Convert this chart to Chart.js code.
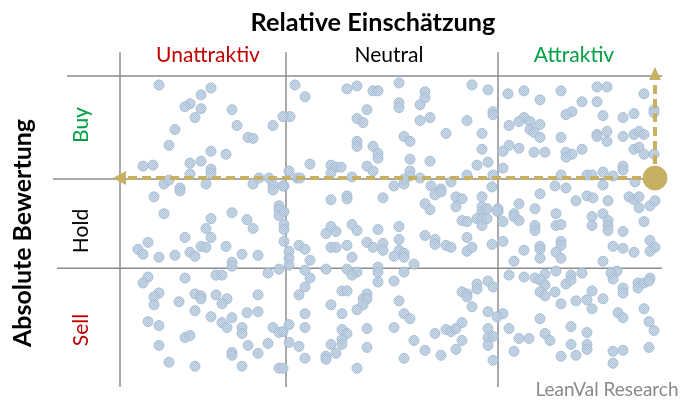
<!DOCTYPE html>
<html>
<head>
<meta charset="utf-8">
<script src="https://cdn.jsdelivr.net/npm/chart.js@4/dist/chart.umd.min.js"></script>
<style>
  html, body { margin: 0; padding: 0; background: #fff; }
</style>
</head>
<body>
<canvas id="chart" width="691" height="400"></canvas>
<script>
// Categories
const columnLabels = ["Unattraktiv", "Neutral", "Attraktiv"];
const rowLabels = ["Buy", "Hold", "Sell"];
// Score boundaries (relative score on x, absolute score on y)
const columnBounds = [0, 166, 378, 542];
const rowBounds = [0, 120, 210, 314];

// Stocks as [relative score, absolute score]
const unattraktivStocks = [
  [39,305],[91,302],[81,295],[70,286],[65,283],[81,281],[112,280],[75,272],[117,264],[163,273],[153,264],[55,260],
  [128,252],[133,251],[49,244],[91,238],[106,235],[23,223],[33,224],[70,226],[81,228],[91,220],[91,216],[70,215],
  [44,205],[49,209],[60,201],[86,205],[133,205],[139,211],[149,211],[153,204],[164,203],
  [153,199],[60,198],[34,192],[44,175],[112,176],[159,183],[159,179],[159,173],[91,170],[127,169],[86,160],[133,160],
  [164,164],[164,159],[65,151],[91,151],[28,146],[18,139],[23,134],[39,131],[55,133],[70,136],[75,132],[81,142],
  [86,141],[106,142],[122,134],[138,133],[164,147],[112,126],[112,122],[159,119],[148,115],[28,111],[65,110],[96,113],
  [102,113],[164,177],[163,203],
  [23,105],[39,95],[34,91],[34,83],[59,86],[75,94],[81,92],[81,89],[96,93],[107,89],[102,84],[138,93],[75,77],[91,71],
  [127,75],[138,76],[28,66],[39,62],[102,65],[107,60],[112,70],[122,60],[122,54],[153,60],[159,55],[65,50],[70,52],
  [39,42],[128,42],[148,44],[112,35],[112,32],[138,34],[49,25],[75,21],[122,21],[159,19],[163,56],[163,19]
];
const neutralStocks = [
  [170,273],[169,218],[175,305],[177,211],[169,137],[169,130],[169,123],[179,143],[169,63],[169,45],[179,93],[179,41],
  [185,293],[227,301],[237,304],[253,299],[258,299],[279,307],[279,287],[279,282],[247,280],[237,271],[243,267],
  [305,298],[305,292],[300,285],[300,269],[310,272],[352,305],[368,300],[347,269],[373,278],[373,275],[326,256],
  [362,256],[362,240],[237,248],[237,243],[253,243],[258,236],[258,231],[284,253],[290,248],[290,230],[310,228],
  [368,227],[357,224],[180,211],[190,225],[211,224],[216,222],[221,222],[211,216],[232,212],[247,223],[253,218],
  [290,218],[290,213],[300,211],[347,214],[373,214],[274,203],[284,205],[284,210],[311,203],[321,200],[331,207],[372,202],
  [211,189],[227,193],[227,190],[263,191],[315,194],[321,197],[305,185],[310,179],[336,192],[342,190],[336,182],
  [362,192],[362,182],[362,177],[367,180],[357,170],[362,170],[367,170],[362,163],[377,178],[342,168],[347,167],
  [206,155],[211,162],[216,157],[232,164],[237,158],[258,159],[279,162],[279,149],[305,153],[315,149],[315,144],
  [347,151],[372,144],[185,139],[211,141],[216,141],[227,143],[247,146],[253,141],[263,145],[263,138],[279,138],
  [284,135],[274,132],[284,131],[326,143],[331,141],[347,137],[352,141],[190,128],[232,131],[294,124],[206,119],
  [227,119],[237,116],[258,121],[258,116],[185,118],
  [258,106],[274,107],[284,116],[190,110],[185,101],[222,97],[227,97],[247,94],[243,89],[247,89],[243,83],[237,78],
  [211,83],[222,74],[185,74],[279,87],[284,74],[290,69],[185,60],[222,58],[227,54],[222,48],[222,43],[211,43],
  [216,34],[206,31],[206,28],[247,59],[247,40],[274,60],[237,19],[284,29],[185,29],[294,47],[305,37],[315,54],
  [326,58],[331,56],[336,59],[342,65],[342,47],[336,38],[321,32],[342,96],[347,94],[347,91],[352,81],[357,104],
  [357,99],[368,107],[373,101],[368,76],[377,71],[368,59],[368,50],[368,42],[373,51],[373,27],[232,113]
];
const attraktivStocks = [
  [388,296],[404,299],[420,290],[441,299],[477,303],[487,303],[477,288],[462,288],[524,296],[534,280],[534,277],
  [452,278],[446,275],[483,274],[514,276],[503,272],[404,272],[399,268],[410,268],[389,264],[420,265],[410,260],
  [414,257],[420,252],[441,252],[477,255],[477,253],[487,258],[487,248],[503,253],[514,255],[519,258],[524,255],
  [389,244],[383,238],[399,241],[414,237],[425,237],[446,237],[452,235],[446,232],[462,240],[514,240],[519,242],
  [524,235],[534,235],[383,221],[503,223],[503,219],[441,214],[467,214],[472,214],[483,217],[493,213],[515,207],
  [435,203],[446,201],[483,204],
  [420,195],[399,185],[456,188],[467,193],[473,191],[488,188],[509,192],[514,189],[519,192],[519,181],[530,183],
  [535,188],[378,180],[378,177],[394,175],[394,172],[399,168],[383,167],[415,180],[436,175],[436,163],[441,164],
  [415,163],[415,158],[472,172],[472,163],[483,175],[488,168],[488,163],[488,158],[503,157],[524,167],[383,147],
  [441,147],[441,143],[420,142],[420,139],[404,138],[436,136],[441,130],[420,130],[394,127],[493,142],[503,140],
  [514,136],[530,148],[535,141],[530,137],[483,127],[497,117],[491,115],[530,110],[389,113],[404,111],[415,110],
  [425,114],[436,117],[451,113],[462,115],
  [420,108],[425,103],[420,96],[425,92],[435,96],[446,104],[451,108],[441,84],[456,87],[467,88],[472,97],[472,79],
  [483,89],[493,109],[503,100],[503,95],[518,105],[518,100],[524,105],[529,107],[383,74],[420,69],[498,75],[503,70],
  [524,79],[529,66],[534,57],[389,59],[425,54],[430,47],[451,61],[467,55],[399,49],[409,49],[394,36],[451,43],
  [467,43],[467,38],[441,31],[456,32],[493,36],[503,37],[529,40],[493,24]
];

// Highlighted stock and the ends of the two arrows leaving it
const focusStock = [535, 211];
const arrowLeftEnd = -7;
const arrowTopEnd = 323;

const GOLD = "#C8B063";
const GRID = "#8c8c8c";
const FONT = "Lato, 'Open Sans', sans-serif";

const toXY = (list) => list.map(([x, y]) => ({ x, y }));

// small dithered fill like the original markers
function dotPattern() {
  const c = document.createElement("canvas");
  c.width = 2;
  c.height = 2;
  const p = c.getContext("2d");
  p.fillStyle = "rgba(196,212,228,0.85)";
  p.fillRect(0, 0, 2, 2);
  p.fillStyle = "rgba(170,192,215,0.85)";
  p.fillRect(0, 0, 1, 1);
  p.fillRect(1, 1, 1, 1);
  return p.createPattern(c, "repeat");
}

// grid lines, labels and arrowheads
const quadrantPlugin = {
  id: "quadrants",
  beforeDatasetsDraw(chart) {
    const { ctx, scales: { x, y } } = chart;
    ctx.save();
    ctx.strokeStyle = GRID;
    ctx.lineWidth = 1.5;
    const line = (x1, y1, x2, y2) => {
      ctx.beginPath();
      ctx.moveTo(x.getPixelForValue(x1), y.getPixelForValue(y1));
      ctx.lineTo(x.getPixelForValue(x2), y.getPixelForValue(y2));
      ctx.stroke();
    };
    // column separators
    for (let i = 0; i < 3; i++) line(columnBounds[i], 338, columnBounds[i], rowBounds[0]);
    // row separators
    line(-53, rowBounds[3], columnBounds[3], rowBounds[3]);
    line(-67, rowBounds[2], columnBounds[3] - 5, rowBounds[2]);
    line(-63, rowBounds[1], columnBounds[3], rowBounds[1]);
    ctx.restore();
  },
  afterDatasetsDraw(chart) {
    const { ctx, scales: { x, y } } = chart;
    const fx = x.getPixelForValue(focusStock[0]);
    const fy = y.getPixelForValue(focusStock[1]);
    const lx = x.getPixelForValue(arrowLeftEnd);
    const ty = y.getPixelForValue(arrowTopEnd);
    ctx.save();
    ctx.fillStyle = GOLD;
    ctx.beginPath();
    ctx.moveTo(lx, fy);
    ctx.lineTo(lx + 13, fy - 7);
    ctx.lineTo(lx + 13, fy + 7);
    ctx.closePath();
    ctx.fill();
    ctx.beginPath();
    ctx.moveTo(fx, ty);
    ctx.lineTo(fx - 6, ty + 13);
    ctx.lineTo(fx + 6, ty + 13);
    ctx.closePath();
    ctx.fill();
    ctx.restore();
  },
  afterDraw(chart) {
    const { ctx } = chart;
    const sizeFor = (text, weight, width) => {
      ctx.font = `${weight} 100px ${FONT}`;
      return (100 * width) / ctx.measureText(text).width;
    };
    const text = (str, cx, base, size, weight, color, rotate) => {
      ctx.save();
      ctx.font = `${weight} ${size}px ${FONT}`;
      ctx.fillStyle = color;
      ctx.textAlign = "center";
      ctx.textBaseline = "alphabetic";
      ctx.translate(cx, base);
      if (rotate) ctx.rotate(-Math.PI / 2);
      ctx.fillText(str, 0, 0);
      ctx.restore();
    };
    const titleSize = sizeFor("Relative Einschätzung", "bold", 245);
    const axisSize = sizeFor("Absolute Bewertung", "bold", 228);
    const labelSize = sizeFor("Unattraktiv", "normal", 104);
    const colColors = ["#C00000", "#000000", "#00A044"];
    const rowColors = ["#00A044", "#000000", "#C00000"];
    const colCenters = [208, 389, 574];
    const rowCenters = [125, 231, 330];

    text("Relative Einschätzung", 373, 31, titleSize, "bold", "#000");
    columnLabels.forEach((l, i) => text(l, colCenters[i], 62, labelSize, "normal", colColors[i]));
    // rotated labels: anchor is (baseline x, centre y)
    text("Absolute Bewertung", 31, 233, axisSize, "bold", "#000", true);
    rowLabels.forEach((l, i) => text(l, 88, rowCenters[i], labelSize, "normal", rowColors[i], true));
    const creditSize = sizeFor("LeanVal Research", "normal", 143);
    text("LeanVal Research", 607, 396, creditSize, "normal", "#8a8a8a");
  }
};

const pointStyle = {
  type: "scatter",
  backgroundColor: dotPattern(),
  borderColor: "rgba(165,188,212,0.9)",
  borderWidth: 1,
  pointRadius: 5,
  clip: false,
  order: 2
};

new Chart(document.getElementById("chart"), {
  type: "scatter",
  data: {
    datasets: [
      {
        type: "line",
        data: toXY([focusStock, [arrowLeftEnd + 12, focusStock[1]]]),
        borderColor: GOLD,
        borderWidth: 4,
        borderDash: [9, 5],
        pointRadius: 0,
        clip: false,
        order: 0
      },
      {
        type: "line",
        data: toXY([focusStock, [focusStock[0], arrowTopEnd - 12]]),
        borderColor: GOLD,
        borderWidth: 4,
        borderDash: [9, 5],
        pointRadius: 0,
        clip: false,
        order: 0
      },
      {
        data: toXY([focusStock]),
        backgroundColor: GOLD,
        borderColor: GOLD,
        pointRadius: 12,
        clip: false,
        order: 0
      },
      { label: "Unattraktiv", data: toXY(unattraktivStocks), ...pointStyle },
      { label: "Neutral", data: toXY(neutralStocks), ...pointStyle },
      { label: "Attraktiv", data: toXY(attraktivStocks), ...pointStyle }
    ]
  },
  options: {
    responsive: false,
    animation: false,
    layout: { padding: { left: 120, right: 29, top: 76, bottom: 10 } },
    scales: {
      x: { type: "linear", min: columnBounds[0], max: columnBounds[3], display: false },
      y: { type: "linear", min: rowBounds[0], max: rowBounds[3], display: false }
    },
    plugins: {
      legend: { display: false },
      tooltip: { enabled: false }
    }
  },
  plugins: [quadrantPlugin]
});
</script>
</body>
</html>
